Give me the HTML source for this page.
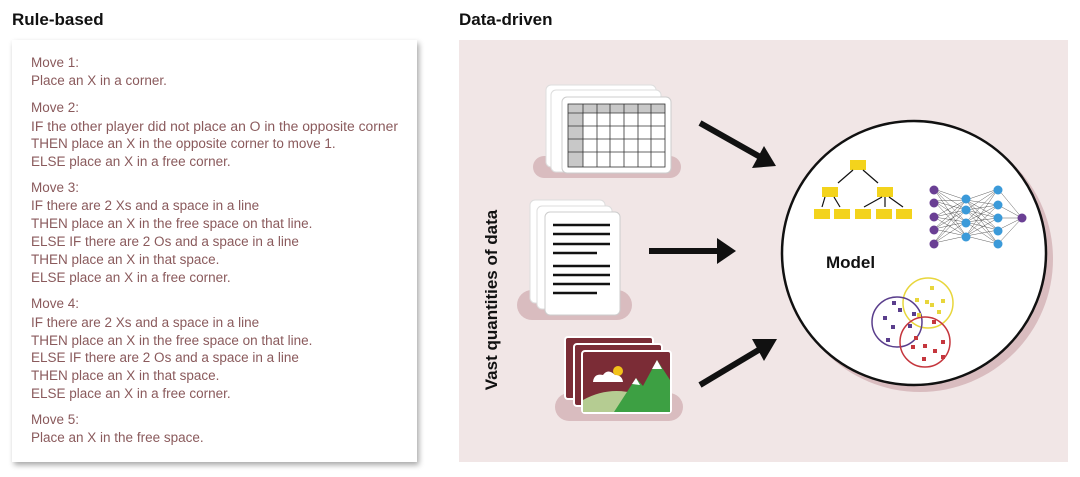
<!DOCTYPE html>
<html><head><meta charset="utf-8"><style>
html,body{margin:0;padding:0;background:#fff;}
svg{display:block;font-family:"Liberation Sans",sans-serif;}
.t{font-size:13.5px;fill:#8a5a5c;}
</style></head><body>
<svg width="1080" height="477" viewBox="0 0 1080 477" xmlns="http://www.w3.org/2000/svg">
<defs>
<filter id="sh" x="-10%" y="-10%" width="120%" height="120%"><feGaussianBlur in="SourceAlpha" stdDeviation="3"/><feOffset dx="2" dy="3"/><feComponentTransfer><feFuncA type="linear" slope="0.35"/></feComponentTransfer><feMerge><feMergeNode/><feMergeNode in="SourceGraphic"/></feMerge></filter>
</defs>
<text x="12" y="25" font-size="17" font-weight="bold" fill="#111">Rule-based</text>
<text x="459" y="25" font-size="17" font-weight="bold" fill="#111">Data-driven</text>
<rect x="12" y="40" width="405" height="422" fill="#fff" filter="url(#sh)"/>
<g class="t">
<text x="31" y="67">Move 1:</text>
<text x="31" y="85">Place an X in a corner.</text>
<text x="31" y="112">Move 2:</text>
<text x="31" y="131" textLength="367" lengthAdjust="spacingAndGlyphs">IF the other player did not place an O in the opposite corner</text>
<text x="31" y="148">THEN place an X in the opposite corner to move 1.</text>
<text x="31" y="166">ELSE place an X in a free corner.</text>
<text x="31" y="192">Move 3:</text>
<text x="31" y="210">IF there are 2 Xs and a space in a line</text>
<text x="31" y="228">THEN place an X in the free space on that line.</text>
<text x="31" y="246">ELSE IF there are 2 Os and a space in a line</text>
<text x="31" y="264">THEN place an X in that space.</text>
<text x="31" y="282">ELSE place an X in a free corner.</text>
<text x="31" y="308">Move 4:</text>
<text x="31" y="327">IF there are 2 Xs and a space in a line</text>
<text x="31" y="345">THEN place an X in the free space on that line.</text>
<text x="31" y="362">ELSE IF there are 2 Os and a space in a line</text>
<text x="31" y="380">THEN place an X in that space.</text>
<text x="31" y="398">ELSE place an X in a free corner.</text>
<text x="31" y="424">Move 5:</text>
<text x="31" y="442">Place an X in the free space.</text>
</g>
<rect x="459" y="40" width="609" height="422" fill="#f1e6e6"/>
<text transform="translate(497,300) rotate(-90)" text-anchor="middle" font-size="17" font-weight="bold" fill="#111">Vast quantities of data</text>
<!-- table stack -->
<rect x="533" y="156" width="148" height="22" rx="11" fill="#d9bcbf"/>
<rect x="546" y="85" width="110" height="82" rx="5" fill="#fff" stroke="#ddd"/>
<rect x="551" y="90" width="110" height="82" rx="5" fill="#fff" stroke="#ddd"/>
<rect x="562" y="97" width="109" height="76" rx="5" fill="#fff" stroke="#ccc"/>
<rect x="568" y="104" width="15" height="63" fill="#c8c8c8"/>
<rect x="568" y="104" width="97" height="9" fill="#c8c8c8"/>
<g stroke="#333" stroke-width="0.8" fill="none">
<rect x="568" y="104" width="97" height="63"/>
<line x1="568" y1="113" x2="665" y2="113"/><line x1="568" y1="126" x2="665" y2="126"/><line x1="568" y1="139" x2="665" y2="139"/><line x1="568" y1="152" x2="665" y2="152"/>
<line x1="583" y1="104" x2="583" y2="167"/><line x1="597" y1="104" x2="597" y2="167"/><line x1="610" y1="104" x2="610" y2="167"/><line x1="624" y1="104" x2="624" y2="167"/><line x1="638" y1="104" x2="638" y2="167"/><line x1="651" y1="104" x2="651" y2="167"/>
</g>
<!-- doc stack -->
<rect x="517" y="290" width="115" height="30" rx="15" fill="#d9bcbf"/>
<rect x="530" y="200" width="75" height="103" rx="5" fill="#fff" stroke="#ddd"/>
<rect x="537" y="206" width="75" height="103" rx="5" fill="#fff" stroke="#ddd"/>
<rect x="545" y="212" width="75" height="103" rx="5" fill="#fff" stroke="#ccc"/>
<g stroke="#111" stroke-width="2.5">
<line x1="553" y1="225" x2="610" y2="225"/><line x1="553" y1="234" x2="610" y2="234"/><line x1="553" y1="244" x2="610" y2="244"/><line x1="553" y1="253" x2="597" y2="253"/>
<line x1="553" y1="266" x2="610" y2="266"/><line x1="553" y1="275" x2="610" y2="275"/><line x1="553" y1="284" x2="610" y2="284"/><line x1="553" y1="293" x2="597" y2="293"/>
</g>
<!-- image stack -->
<rect x="555" y="393" width="128" height="28" rx="14" fill="#d9bcbf"/>
<rect x="565" y="337" width="88" height="62" rx="3" fill="#7b2c36" stroke="#fff" stroke-width="2"/>
<rect x="574" y="344" width="88" height="62" rx="3" fill="#7b2c36" stroke="#fff" stroke-width="2"/>
<rect x="582" y="351" width="89" height="62" rx="3" fill="#7b2c36" stroke="#fff" stroke-width="2"/>
<path d="M583 400 Q610 385 640 395 L670 395 L670 412 L583 412Z" fill="#b5cc92"/>
<path d="M614 412 L636 378 L643 386 L657 360 L670 380 L670 412Z" fill="#3da043"/>
<path d="M632 384 L636 378 L640 385Z M652 369 L657 360 L662 369Z" fill="#fff"/>
<circle cx="618" cy="371" r="5" fill="#f2c21a"/>
<path d="M593 382 Q594 373 603 375 Q608 368 615 375 Q622 375 623 382Z" fill="#fff"/>
<!-- arrows -->
<g stroke="#111" stroke-width="6">
<line x1="700" y1="123" x2="762" y2="158"/>
<line x1="649" y1="251" x2="718" y2="251"/>
<line x1="700" y1="385" x2="762" y2="348"/>
</g>
<polygon points="776,166 752,168 764,146" fill="#111"/>
<polygon points="736,251 717,238 717,264" fill="#111"/>
<polygon points="777,339 764,361 752,339" fill="#111"/>
<!-- model circle -->
<circle cx="920" cy="259" r="133" fill="#d9bcbf"/>
<circle cx="914" cy="253" r="132" fill="#fff" stroke="#111" stroke-width="2.5"/>
<text x="826" y="268" font-size="17" font-weight="bold" fill="#111">Model</text>
<!-- tree -->
<g fill="#f3d31c">
<rect x="850" y="160" width="16" height="10"/>
<rect x="822" y="187" width="16" height="10"/><rect x="877" y="187" width="16" height="10"/>
<rect x="814" y="209" width="16" height="10"/><rect x="834" y="209" width="16" height="10"/><rect x="855" y="209" width="16" height="10"/><rect x="876" y="209" width="16" height="10"/><rect x="896" y="209" width="16" height="10"/>
</g>
<g stroke="#111" stroke-width="1.2">
<line x1="853" y1="170" x2="838" y2="183"/><line x1="863" y1="170" x2="878" y2="183"/>
<line x1="825" y1="197" x2="822" y2="207"/><line x1="834" y1="197" x2="840" y2="207"/>
<line x1="882" y1="197" x2="864" y2="207"/><line x1="885" y1="197" x2="885" y2="207"/><line x1="889" y1="197" x2="903" y2="207"/>
</g>
<!-- neural net -->
<g stroke="#333" stroke-width="0.4">
<path d="M934 189 L966 200 M934 189 L966 210 M934 189 L966 222 M934 189 L966 236 M934 201 L966 200 M934 201 L966 210 M934 201 L966 222 M934 201 L966 236 M934 217 L966 200 M934 217 L966 210 M934 217 L966 222 M934 217 L966 236 M934 229 L966 200 M934 229 L966 210 M934 229 L966 222 M934 229 L966 236 M934 243 L966 200 M934 243 L966 210 M934 243 L966 222 M934 243 L966 236"/>
<path d="M966 200 L998 189 M966 200 L998 205 M966 200 L998 218 M966 200 L998 230 M966 200 L998 244 M966 210 L998 189 M966 210 L998 205 M966 210 L998 218 M966 210 L998 230 M966 210 L998 244 M966 222 L998 189 M966 222 L998 205 M966 222 L998 218 M966 222 L998 230 M966 222 L998 244 M966 236 L998 189 M966 236 L998 205 M966 236 L998 218 M966 236 L998 230 M966 236 L998 244"/>
<path d="M998 189 L1022 218 M998 205 L1022 218 M998 218 L1022 218 M998 230 L1022 218 M998 244 L1022 218"/>
</g>
<g fill="#6a3f94"><circle cx="934" cy="190" r="4.5"/><circle cx="934" cy="203" r="4.5"/><circle cx="934" cy="217" r="4.5"/><circle cx="934" cy="230" r="4.5"/><circle cx="934" cy="244" r="4.5"/><circle cx="1022" cy="218" r="4.5"/></g>
<g fill="#3b9ad9"><circle cx="966" cy="199" r="4.5"/><circle cx="966" cy="210" r="4.5"/><circle cx="966" cy="223" r="4.5"/><circle cx="966" cy="237" r="4.5"/><circle cx="998" cy="190" r="4.5"/><circle cx="998" cy="205" r="4.5"/><circle cx="998" cy="218" r="4.5"/><circle cx="998" cy="231" r="4.5"/><circle cx="998" cy="244" r="4.5"/></g>
<!-- clusters -->
<circle cx="928" cy="303" r="25" fill="none" stroke="#e8d63c" stroke-width="1.5"/>
<circle cx="897" cy="322" r="25" fill="none" stroke="#5a3e8c" stroke-width="1.5"/>
<circle cx="925" cy="342" r="25" fill="none" stroke="#c5363d" stroke-width="1.5"/>
<g fill="#e8d63c"><rect x="930" y="286" width="4" height="4"/><rect x="915" y="298" width="4" height="4"/><rect x="925" y="300" width="4" height="4"/><rect x="930" y="303" width="4" height="4"/><rect x="941" y="299" width="4" height="4"/><rect x="937" y="310" width="4" height="4"/><rect x="917" y="313" width="4" height="4"/></g>
<g fill="#5a3e8c"><rect x="892" y="301" width="4" height="4"/><rect x="883" y="316" width="4" height="4"/><rect x="898" y="308" width="4" height="4"/><rect x="912" y="312" width="4" height="4"/><rect x="891" y="325" width="4" height="4"/><rect x="886" y="338" width="4" height="4"/><rect x="908" y="324" width="4" height="4"/></g>
<g fill="#c5363d"><rect x="932" y="320" width="4" height="4"/><rect x="914" y="336" width="4" height="4"/><rect x="911" y="345" width="4" height="4"/><rect x="923" y="344" width="4" height="4"/><rect x="941" y="340" width="4" height="4"/><rect x="933" y="349" width="4" height="4"/><rect x="941" y="355" width="4" height="4"/><rect x="922" y="357" width="4" height="4"/></g>
</svg>
</body></html>
